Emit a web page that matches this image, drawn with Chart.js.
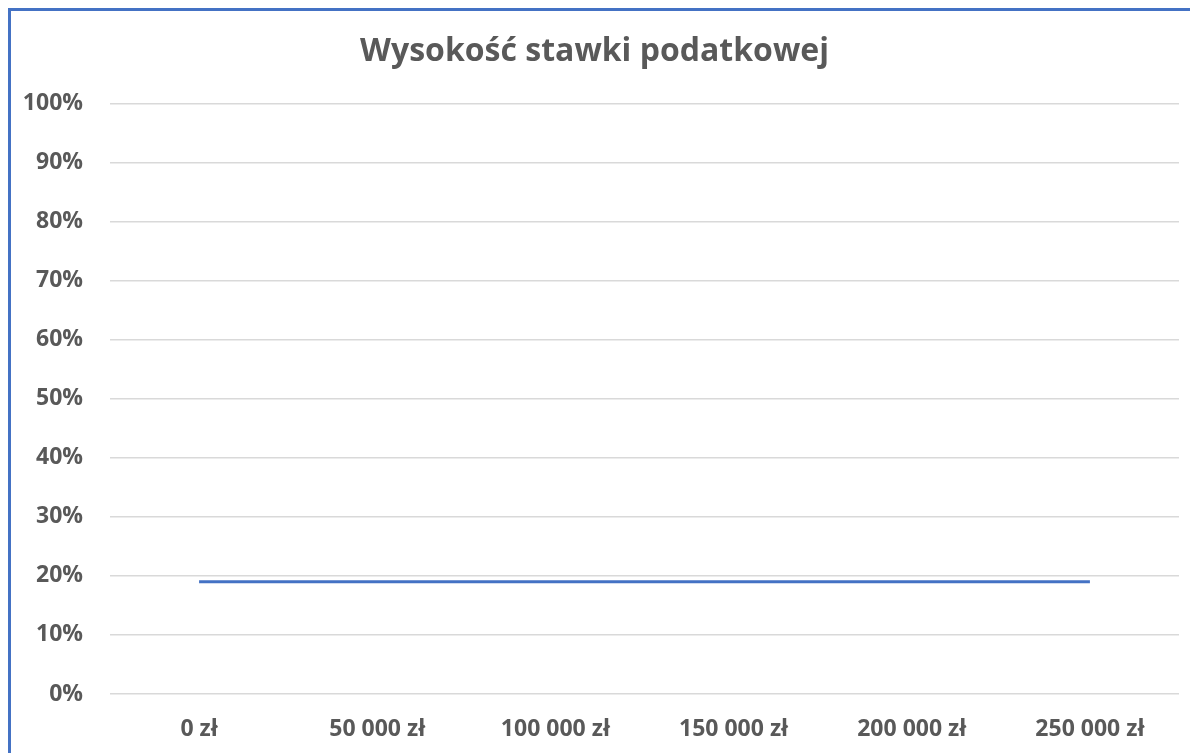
<!DOCTYPE html>
<html>
<head>
<meta charset="utf-8">
<script src="https://cdn.jsdelivr.net/npm/chart.js@4"></script>
<style>
  body { margin: 0; background: #fff; }
  #wrap { position: relative; width: 1190px; height: 753px; overflow: hidden; }
  #frame {
    position: absolute; left: 8px; top: 8px; width: 1300px; height: 900px;
    border: 3px solid #4472C4; pointer-events: none;
  }
</style>
</head>
<body>
<div id="wrap">
  <canvas id="myChart" width="1190" height="753"></canvas>
  <div id="frame"></div>
</div>
<script>
const chartTitle = "Wysokość stawki podatkowej";
const incomes = [0, 250000];          // zł
const taxRates = [19, 19];            // %
const xTicks = [0, 50000, 100000, 150000, 200000, 250000];

const textColor = "#595959";
const fontFamily = "'Open Sans', 'Noto Sans', sans-serif";

const formatZl = (v) => v.toString().replace(/\B(?=(\d{3})+(?!\d))/g, " ") + " zł";

const ctx = document.getElementById("myChart").getContext("2d");

new Chart(ctx, {
  type: "line",
  data: {
    datasets: [
      {
        label: "Stawka",
        data: incomes.map((x, i) => ({ x: x, y: taxRates[i] })),
        borderColor: "#4472C4",
        borderWidth: 3,
        pointRadius: 0,
        tension: 0
      }
    ]
  },
  options: {
    responsive: false,
    animation: false,
    layout: {
      padding: { left: 10, right: 11, top: 0, bottom: 0 }
    },
    scales: {
      x: {
        type: "linear",
        min: -25000,
        max: 275000,
        afterBuildTicks: (scale) => {
          scale.ticks = xTicks.map(v => ({ value: v }));
        },
        afterFit: (scale) => { scale.height = 59; },
        grid: { display: false, drawTicks: false },
        border: { display: false },
        ticks: {
          padding: 22,
          maxRotation: 0,
          color: textColor,
          font: { family: fontFamily, size: 23, weight: "bold" },
          callback: (v) => formatZl(v)
        }
      },
      y: {
        min: 0,
        max: 100,
        afterFit: (scale) => { scale.width = 100; },
        grid: { color: "#d9d9d9", lineWidth: 1.5, drawTicks: false },
        border: { display: false },
        ticks: {
          stepSize: 10,
          padding: 27,
          color: textColor,
          font: { family: fontFamily, size: 23, weight: "bold" },
          callback: (v) => v + "%"
        }
      }
    },
    plugins: {
      legend: { display: false },
      tooltip: { enabled: false },
      title: {
        display: true,
        text: chartTitle,
        color: textColor,
        font: { family: fontFamily, size: 32, weight: "bold" },
        padding: { top: 33, bottom: 32 }
      }
    }
  }
});
</script>
</body>
</html>
